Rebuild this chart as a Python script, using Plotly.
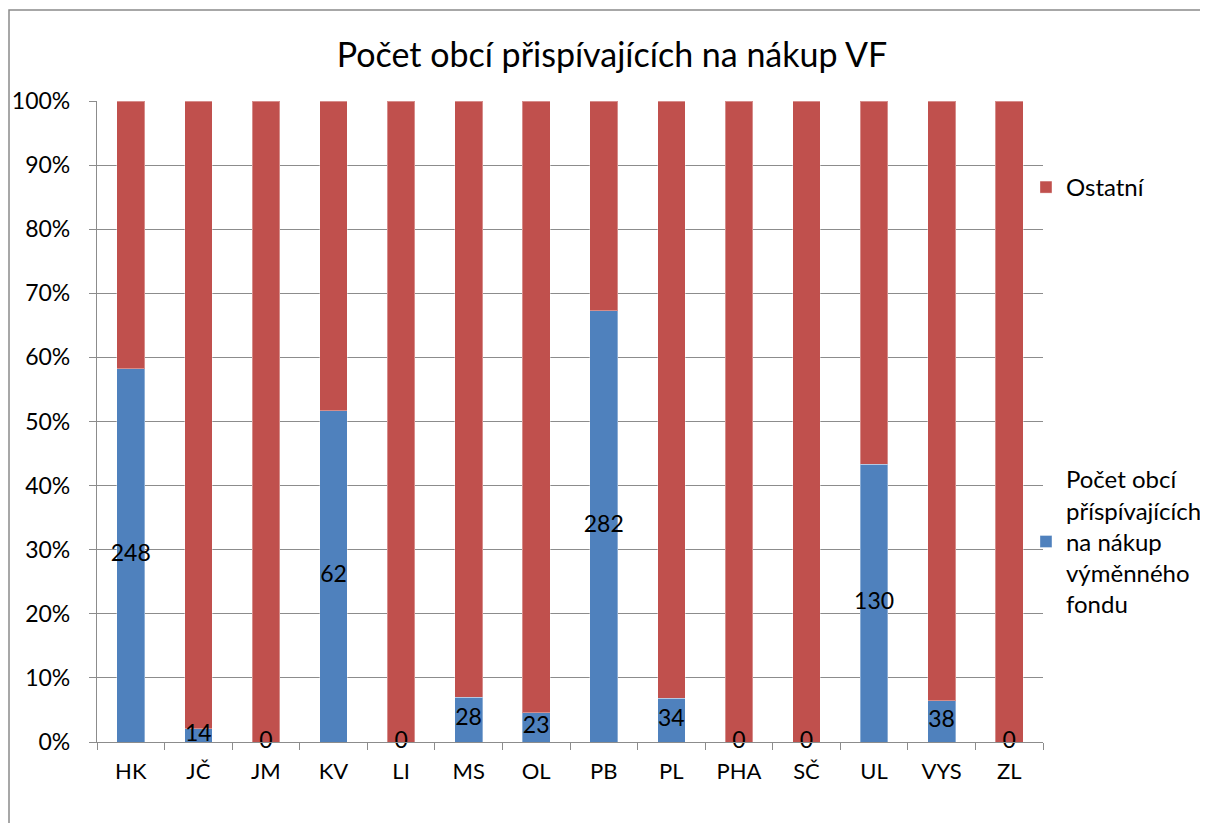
import plotly.graph_objects as go

categories = ["HK", "JČ", "JM", "KV", "LI", "MS", "OL", "PB", "PL", "PHA", "SČ", "UL", "VYS", "ZL"]
contributing = [248, 14, 0, 62, 0, 28, 23, 282, 34, 0, 0, 130, 38, 0]
others = [178, 653, 673, 58, 215, 372, 477, 137, 466, 1, 1145, 170, 556, 307]

BLUE = "#4F81BD"
RED = "#C0504D"
GRID = "#8c8c8c"
FONT = "Lato, 'Open Sans', 'DejaVu Sans', sans-serif"

label_y = [100.0 * c / (c + o) / 2.0 for c, o in zip(contributing, others)]

fig = go.Figure()
fig.add_trace(go.Bar(
    x=categories, y=contributing,
    name="Počet obcí<br>příspívajících<br>na nákup<br>výměnného<br>fondu",
    marker=dict(color=BLUE, line=dict(color="rgba(255,255,255,0.35)", width=1)),
    legend="legend2",
))
fig.add_trace(go.Bar(
    x=categories, y=others, name="Ostatní",
    marker=dict(color=RED, line=dict(color="rgba(255,255,255,0.35)", width=1)),
    legend="legend",
))
fig.add_trace(go.Scatter(
    x=categories, y=label_y, mode="text",
    text=[str(v) for v in contributing],
    textfont=dict(size=23, color="black", family=FONT),
    textposition="middle center",
    showlegend=False, cliponaxis=False, hoverinfo="skip",
))

# page body adds an 8px offset; figure is sized so the plot lands on the reference grid
fig.update_layout(
    width=1200, height=815,
    margin=dict(l=89, r=165, t=93, b=81, autoexpand=False),
    barmode="stack", barnorm="percent", bargap=0.59,
    plot_bgcolor="white", paper_bgcolor="white",
    font=dict(family=FONT, size=22, color="black"),
    title=dict(text="Počet obcí přispívajících na nákup VF", x=(612 - 8) / 1200, xanchor="center",
               y=1 - 47 / 815, yanchor="middle", font=dict(size=34, family=FONT)),
    legend=dict(x=0.982, xanchor="left", y=(742 - 165) / 641, yanchor="top",
                font=dict(size=24), bgcolor="rgba(0,0,0,0)", traceorder="normal"),
    legend2=dict(x=0.982, xanchor="left", y=(742 - 457) / 641, yanchor="top",
                 font=dict(size=24), bgcolor="rgba(0,0,0,0)"),
    showlegend=True,
    shapes=[dict(type="rect", xref="paper", yref="paper",
                 x0=(9 - 97) / 946, x1=1.3, y0=-0.3, y1=(742 - 10) / 641,
                 line=dict(color="#8a8a8a", width=1.5), layer="below")],
)
fig.update_yaxes(range=[0, 100], dtick=10, ticksuffix="%", showgrid=True, automargin=False,
                 gridcolor=GRID, gridwidth=1.2, showline=True, linecolor=GRID, linewidth=1.2,
                 ticks="outside", ticklen=7, tickcolor=GRID, ticklabelstandoff=14,
                 tickfont=dict(size=23), zeroline=False)
fig.update_xaxes(range=[-0.5, len(categories) - 0.5], tickson="boundaries", ticks="outside",
                 ticklen=7, tickcolor=GRID, automargin=False,
                 showline=True, linecolor=GRID, linewidth=1.2, showgrid=False,
                 tickfont=dict(size=22), ticklabelstandoff=9)

fig.write_html("out.html")
